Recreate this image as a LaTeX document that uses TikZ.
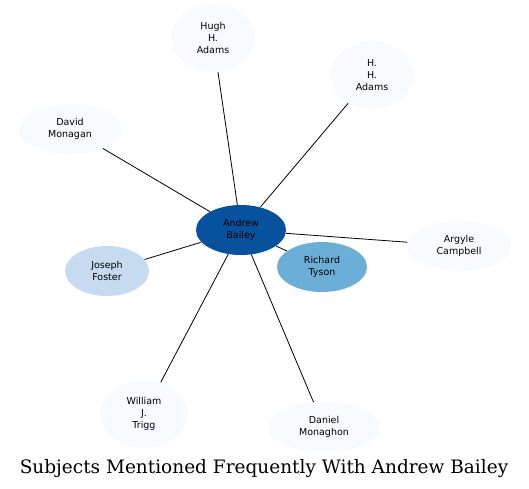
\documentclass[tikz,border=0pt]{standalone}
\usepackage{fontspec}
\setmainfont{DejaVu Sans}
\newfontfamily\titlefont{DejaVu Serif}
\usetikzlibrary{shapes.geometric}
\definecolor{cA}{HTML}{08519C}
\definecolor{cB}{HTML}{6BAED6}
\definecolor{cC}{HTML}{C6DBEF}
\definecolor{cD}{HTML}{F7FBFF}
\tikzset{
  person/.style={ellipse, draw=none, inner sep=0pt, align=center,
    font=\fontsize{9.5}{12}\selectfont, minimum width=#1},
  link/.style={draw=black, line width=0.8pt},
}
\begin{document}
\begin{tikzpicture}[x=1pt,y=-1pt]
\useasboundingbox (0,0) rectangle (529,488);
\node[person=84pt, minimum height=68pt, fill=cD] (hugh) at (213,38) {Hugh\\H.\\Adams};
\node[person=84pt, minimum height=68pt, fill=cD] (hh) at (372,75) {H.\\H.\\Adams};
\node[person=104pt, minimum height=50pt, fill=cD] (david) at (70,129) {David\\Monagan};
\node[person=104pt, minimum height=50pt, fill=cD] (argyle) at (459,246) {Argyle\\Campbell};
\node[person=84pt, minimum height=50pt, fill=cC] (joseph) at (107,271) {Joseph\\Foster};
\node[person=90pt, minimum height=50pt, fill=cB] (richard) at (322,267) {Richard\\Tyson};
\node[person=88pt, minimum height=68pt, fill=cD] (william) at (144,414) {William\\J.\\Trigg};
\node[person=114pt, minimum height=50pt, fill=cD] (daniel) at (324,427) {Daniel\\Monaghon};
\node[person=90pt, minimum height=50pt, fill=cA] (andrew) at (241,230) {Andrew\\Bailey};
\foreach \t in {hugh,hh,david,argyle,joseph,richard,william,daniel}
  \draw[link] (andrew) -- (\t);
\node[font=\titlefont\fontsize{18.5}{22}\selectfont, inner sep=0pt, anchor=base] (title) at (264,473) {Subjects Mentioned Frequently With Andrew Bailey};
\end{tikzpicture}
\end{document}
